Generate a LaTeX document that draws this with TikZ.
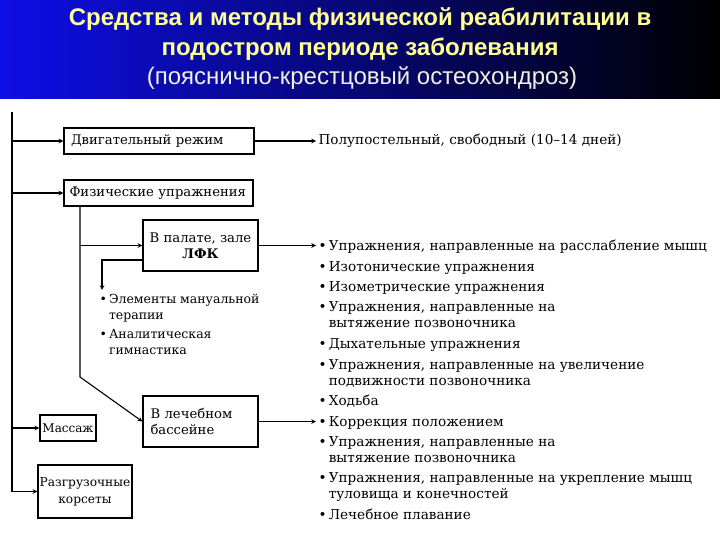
\documentclass[tikz,border=0pt]{standalone}
\usepackage{fontspec}
\setmainfont{DejaVu Serif}
\setsansfont{Liberation Sans}
\usepackage{xcolor}
\usetikzlibrary{arrows}

\definecolor{titleyellow}{RGB}{255,255,150}
\definecolor{titlewhite}{RGB}{240,240,225}
\definecolor{bannerblue}{RGB}{14,14,232}
\definecolor{bannermid}{RGB}{10,10,185}

% one bullet item, optional second line
\newcommand{\itm}[2]{\begin{tabular}[t]{@{}l@{\,}l@{}}\textbullet & #1\\ & #2\end{tabular}}
\newcommand{\itmone}[1]{\textbullet\,#1}

\begin{document}
\begin{tikzpicture}[
    x=1pt, y=-1pt,
    > = stealth, % arrow head style
    line width=1.1pt,
    txt/.style={font=\fontsize{13.6}{16}\selectfont, inner sep=2pt},
    box/.style={draw, line width=1.3pt, font=\fontsize{13.2}{16}\selectfont, inner sep=0pt},
    item/.style={txt, anchor=base west}
]
\useasboundingbox (0,0) rectangle (720,540);

% Banner
\shade[left color=bannerblue, middle color=bannermid, right color=black] (0,0) rectangle (720,99);
\node[font=\sffamily\bfseries\fontsize{24}{26}\selectfont, text=titleyellow] (title1) at (360,19) {Средства и методы физической реабилитации в};
\node[font=\sffamily\bfseries\fontsize{24}{26}\selectfont, text=titleyellow] (title2) at (360,49) {подостром периоде заболевания};
\node[font=\sffamily\fontsize{24}{26}\selectfont, text=titlewhite] (title3) at (362,78) {(пояснично-крестцовый остеохондроз)};

% Boxes
\node[box, minimum width=190pt, minimum height=26pt, text width=176pt, align=left] (dvig) at (159,141) {Двигательный режим};
\node[box, minimum width=189pt, minimum height=26pt, text width=178pt, align=left] (fiz) at (158.5,193) {Физические упражнения};
\node[box, minimum width=115pt, minimum height=51pt, align=center] (lfk) at (200.5,245.5) {В палате, зале\\\textbf{ЛФК}};
\node[box, minimum width=115pt, minimum height=51pt, text width=100pt, align=left] (bass) at (200.5,421.5) {В лечебном\\бассейне};
\node[box, minimum width=56pt, minimum height=26pt, font=\fontsize{12}{16}\selectfont] (mass) at (68,428) {Массаж};
\node[box, minimum width=94pt, minimum height=53pt, align=center, font=\fontsize{12.2}{17}\selectfont] (kors) at (85,491.5) {Разгрузочные\\корсеты};

% Texts
\node[txt, anchor=west] (polu) at (316,141) {Полупостельный, свободный (10--14 дней)};
\node[txt, anchor=north west, align=left, font=\fontsize{12.5}{16}\selectfont] (manual) at (97,290) {\itm{Элементы мануальной}{терапии}\\[2pt]\itm{Аналитическая}{гимнастика}};

\node[item] (it1) at (316,250) {\itmone{Упражнения, направленные на расслабление мышц}};
\node[item] (it2) at (316,271) {\itmone{Изотонические упражнения}};
\node[item] (it3) at (316,291) {\itmone{Изометрические упражнения}};
\node[item] (it4) at (316,311) {\itm{Упражнения, направленные на}{вытяжение позвоночника}};
\node[item] (it5) at (316,348) {\itmone{Дыхательные упражнения}};
\node[item] (it6) at (316,369) {\itm{Упражнения, направленные на увеличение}{подвижности позвоночника}};
\node[item] (it7) at (316,405) {\itmone{Ходьба}};
\node[item] (it8) at (316,426) {\itmone{Коррекция положением}};
\node[item] (it9) at (316,446) {\itm{Упражнения, направленные на}{вытяжение позвоночника}};
\node[item] (it10) at (316,482) {\itm{Упражнения, направленные на укрепление мышц}{туловища и конечностей}};
\node[item] (it11) at (316,519) {\itmone{Лечебное плавание}};

% Connectors
\coordinate (trunk) at (12,112);
\coordinate (fizdrop) at (80,377);
\coordinate (mancorner) at (102,260);

\draw (trunk) -- (trunk |- kors.west);
\draw[->] (trunk |- dvig.west) -- (dvig.west);
\draw[->] (trunk |- fiz.west) -- (fiz.west);
\draw[->] (trunk |- mass.west) -- (mass.west);
\draw[->] (trunk |- kors.west) -- (kors.west);
\draw[->] (dvig.east) -- (polu.west);
\draw[->] (fiz.south -| fizdrop) -- (fizdrop) -- (bass.west);
\draw[->] (fizdrop |- lfk.west) -- (lfk.west);
\draw[->] (lfk.west |- mancorner) -- (mancorner) -- (manual.north -| mancorner);
\draw[->] (lfk.east) -- (lfk.east -| it1.west);
\draw[->] (bass.east) -- (bass.east -| it8.west);

\end{tikzpicture}
\end{document}
